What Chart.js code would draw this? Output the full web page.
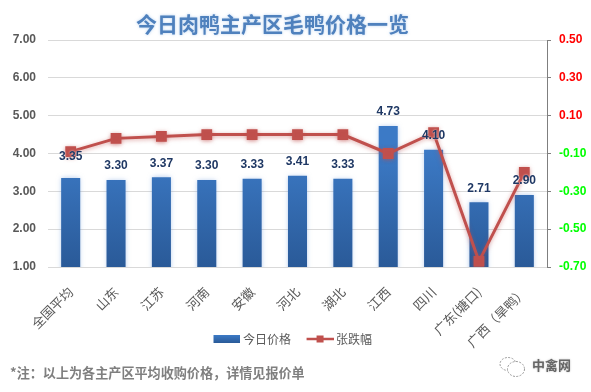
<!DOCTYPE html>
<html><head><meta charset="utf-8">
<style>
html,body{margin:0;padding:0;background:#fff;width:591px;height:392px;overflow:hidden}
#w{position:relative;width:591px;height:392px}
canvas{position:absolute;left:0;top:0}
.t{position:absolute;white-space:nowrap;font-family:"Noto Sans CJK SC",sans-serif}
#title{left:136px;top:9px;font-size:21px;line-height:28px;font-weight:700;color:#4F81BD;text-shadow:0 0 3px rgba(120,170,225,.55)}
#note{left:10px;top:364px;font-size:13.1px;line-height:18px;font-weight:700;color:#7F7F7F}
#mark{left:532px;top:356px;font-size:13px;line-height:18px;font-weight:700;color:#666;text-shadow:0 0 2px #bbb}
#ico{position:absolute;left:499px;top:356px}
</style></head><body><div id="w">
<canvas id="c" width="591" height="392"></canvas>
<div class="t" id="title">今日肉鸭主产区毛鸭价格一览</div>
<div class="t" id="note">*注：以上为各主产区平均收购价格，详情见报价单</div>
<svg id="ico" width="28" height="22" viewBox="0 0 28 22" fill="#fff" stroke="#999" stroke-width="1" stroke-dasharray="2 1.4"><ellipse cx="9" cy="8" rx="8" ry="6.5"/><ellipse cx="17" cy="13" rx="8.5" ry="7.5"/></svg>
<div class="t" id="mark">中禽网</div>
</div>
<script src="https://cdn.jsdelivr.net/npm/chart.js@4"></script>
<script>
const categories=["全国平均","山东","江苏","河南","安徽","河北","湖北","江西","四川","广东(塘口)","广西（旱鸭）"];
const prices=[3.35,3.30,3.37,3.30,3.33,3.41,3.33,4.73,4.10,2.71,2.90];
const changes=[-0.09,-0.02,-0.01,0,0,0,0,-0.10,0.01,-0.67,-0.20];
const seriesNames=["今日价格","张跌幅"];
const cjk='"Noto Sans CJK SC",sans-serif';
const latin='"Liberation Sans",sans-serif';

function barFill(ctx){
  const a=ctx.chart.chartArea; if(!a) return '#3570B5';
  const g=ctx.chart.ctx.createLinearGradient(0,a.top+110,0,a.bottom);
  g.addColorStop(0,'#3C7AC6'); g.addColorStop(1,'#2A5A98'); return g;
}
function swatch(kind){
  const c=document.createElement('canvas'); c.width=33; c.height=10; const x=c.getContext('2d');
  x.translate(6,0);
  if(kind==='bar'){const g=x.createLinearGradient(0,1,0,9);g.addColorStop(0,'#3C7AC6');g.addColorStop(1,'#2A5A98');x.fillStyle=g;x.fillRect(0,1,27,8);}
  else{x.strokeStyle='#C0504D';x.lineWidth=2.5;x.beginPath();x.moveTo(0,5);x.lineTo(27,5);x.stroke();x.fillStyle='#C0504D';x.fillRect(10,1.5,7,7);}
  return c;
}
const barLabels={id:'barLabels',afterDatasetsDraw(ch){
  const m=ch.getDatasetMeta(1),x=ch.ctx; x.save();
  x.font='bold 12px '+latin; x.fillStyle='#1F3864'; x.textAlign='center'; x.textBaseline='middle';
  x.shadowColor='rgba(255,255,255,.9)'; x.shadowBlur=2;
  m.data.forEach((b,i)=>{x.fillText(prices[i].toFixed(2),b.x,b.y-(i===0?21:14));});
  x.restore();
}};
const glow={id:'glow',
  afterLayout(ch){ch.scales.x.bottom=ch.height;ch.legend.left-=4;ch.legend.right-=4;},
  beforeDatasetDraw(ch,a){const c=ch.ctx;c.save();
    if(a.index===0){c.shadowColor='rgba(192,80,77,.5)';c.shadowBlur=4;c.shadowOffsetY=1;}
    else{c.shadowColor='rgba(110,155,220,.55)';c.shadowBlur=5;}},
  afterDatasetDraw(ch){ch.ctx.restore();}
};
new Chart(document.getElementById('c'),{
  data:{labels:categories,datasets:[
    {type:'line',label:seriesNames[1],data:changes,yAxisID:'y1',borderColor:'#C0504D',backgroundColor:'#C0504D',borderWidth:3,pointStyle:'rect',pointRadius:5.5,pointHoverRadius:5.5,tension:0,order:1},
    {type:'bar',label:seriesNames[0],data:prices,yAxisID:'y',backgroundColor:barFill,barPercentage:.42,categoryPercentage:1,order:2}
  ]},
  options:{responsive:false,animation:false,
    layout:{padding:{top:40,left:0,right:0,bottom:37}},
    plugins:{title:{display:false},tooltip:{enabled:false},
      legend:{position:'bottom',align:'center',
        labels:{usePointStyle:true,pointStyleWidth:26,boxHeight:10,padding:13,color:'#595959',font:{family:cjk,size:12},
          generateLabels(ch){return [
            {text:seriesNames[0],pointStyle:swatch('bar'),fontColor:'#595959',datasetIndex:1,lineWidth:0},
            {text:seriesNames[1],pointStyle:swatch('line'),fontColor:'#595959',datasetIndex:0,lineWidth:0}];}
        }}},
    scales:{
      x:{offset:true,grid:{display:false},border:{display:false},
        afterFit(s){s.height=53;},
        ticks:{autoSkip:false,minRotation:45,maxRotation:45,padding:9,color:'#595959',font:{family:cjk,size:13}}},
      y:{position:'left',min:1,max:7,grid:{color:'#D9D9D9',drawTicks:false},border:{display:false},
        afterFit(s){s.width=48;},
        ticks:{stepSize:1,padding:12,color:'#595959',font:{family:latin,size:12,weight:'bold'},callback:v=>v.toFixed(2)}},
      y1:{position:'right',min:-0.7,max:0.5,grid:{drawOnChartArea:false,tickLength:4,tickColor:'#7F7F7F'},border:{color:'#7F7F7F'},
        afterFit(s){s.width=44;},
        ticks:{stepSize:.2,padding:8,font:{family:latin,size:12,weight:'bold'},
          color:c=>c.tick.value>0?'#FF0000':'#00FF00',callback:v=>v.toFixed(2)}}
    }
  },
  plugins:[barLabels,glow]
});
</script></body></html>
